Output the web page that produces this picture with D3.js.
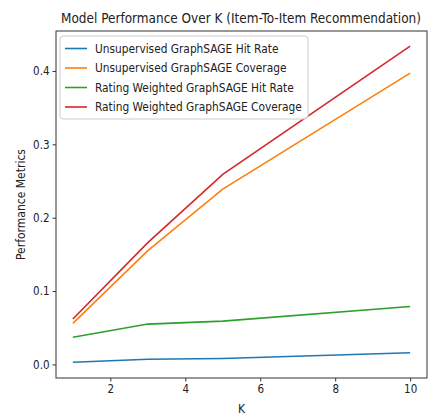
<!DOCTYPE html>
<html><head><meta charset="utf-8">
<script src="https://cdn.jsdelivr.net/npm/d3@7"></script>
<style>body{margin:0;background:#fff}svg{display:block}text{font-family:"DejaVu Sans Condensed","DejaVu Sans",sans-serif;fill:#222}</style>
</head><body><svg id="c" width="432" height="420"></svg>
<script>
const kValues = [1, 3, 5, 10];
const seriesNames = [
  "Unsupervised GraphSAGE Hit Rate",
  "Unsupervised GraphSAGE Coverage",
  "Rating Weighted GraphSAGE Hit Rate",
  "Rating Weighted GraphSAGE Coverage"
];
const unsupHitRate = [0.003, 0.007, 0.008, 0.016];
const unsupCoverage = [0.056, 0.155, 0.239, 0.397];
const ratingHitRate = [0.037, 0.055, 0.059, 0.079];
const ratingCoverage = [0.062, 0.166, 0.259, 0.434];
const seriesColors = ["#1f77b4", "#ff7f0e", "#2ca02c", "#d62728"];
const xTicks = [2, 4, 6, 8, 10];
const yTicks = [0.0, 0.1, 0.2, 0.3, 0.4];

const series = [unsupHitRate, unsupCoverage, ratingHitRate, ratingCoverage];
const svg = d3.select("#c");
const L = 56, R = 427, T = 31, B = 378;
const x = d3.scaleLinear().domain([0.55, 10.45]).range([L, R]);
const y = d3.scaleLinear().domain([-0.0185, 0.4545]).range([B, T]);
const FF = "DejaVu Sans Condensed";

const title = svg.append("text").attr("x", 241).attr("y", 23).attr("text-anchor", "middle")
  .attr("font-size", 14.5).text("Model Performance Over K (Item-To-Item Recommendation)");
const tw = title.node().getComputedTextLength();
if (tw > 360) title.attr("font-size", 14.5 * 360 / tw);

const xa = svg.append("g").attr("transform", `translate(0,${B})`)
  .call(d3.axisBottom(x).tickValues(xTicks).tickFormat(d3.format("d")).tickSize(3.5).tickPadding(3));
const ya = svg.append("g").attr("transform", `translate(${L},0)`)
  .call(d3.axisLeft(y).tickValues(yTicks).tickFormat(d3.format(".1f")).tickSize(3.5).tickPadding(3));
[xa, ya].forEach(a => {
  a.select(".domain").remove();
  a.selectAll("text").attr("font-size", 11.5).attr("font-family", FF).attr("fill", "#222");
  a.selectAll("line").attr("stroke", "#333");
});

const line = d3.line().x((d, i) => x(kValues[i])).y(d => y(d));
series.forEach((s, i) => {
  svg.append("path").datum(s).attr("d", line).attr("fill", "none")
    .attr("stroke", seriesColors[i]).attr("stroke-width", 1.6);
});

svg.append("rect").attr("x", L).attr("y", T).attr("width", R - L).attr("height", B - T)
  .attr("fill", "none").attr("stroke", "#333").attr("stroke-width", 1);

svg.append("text").attr("x", (L + R) / 2).attr("y", 413).attr("text-anchor", "middle")
  .attr("font-size", 12).text("K");
svg.append("text").attr("transform", `translate(25,${(T + B) / 2}) rotate(-90)`)
  .attr("text-anchor", "middle").attr("font-size", 12).text("Performance Metrics");

const lg = svg.append("g");
lg.append("rect").attr("x", 60).attr("y", 36).attr("width", 248).attr("height", 83)
  .attr("rx", 3).attr("fill", "#fff").attr("fill-opacity", 0.8).attr("stroke", "#ccc");
seriesNames.forEach((n, i) => {
  const yy = 48.5 + i * 19.5;
  lg.append("line").attr("x1", 65).attr("x2", 87).attr("y1", yy).attr("y2", yy)
    .attr("stroke", seriesColors[i]).attr("stroke-width", 1.6);
  lg.append("text").attr("x", 95).attr("y", yy + 4.2).attr("font-size", 11.8).text(n);
});
</script></body></html>
